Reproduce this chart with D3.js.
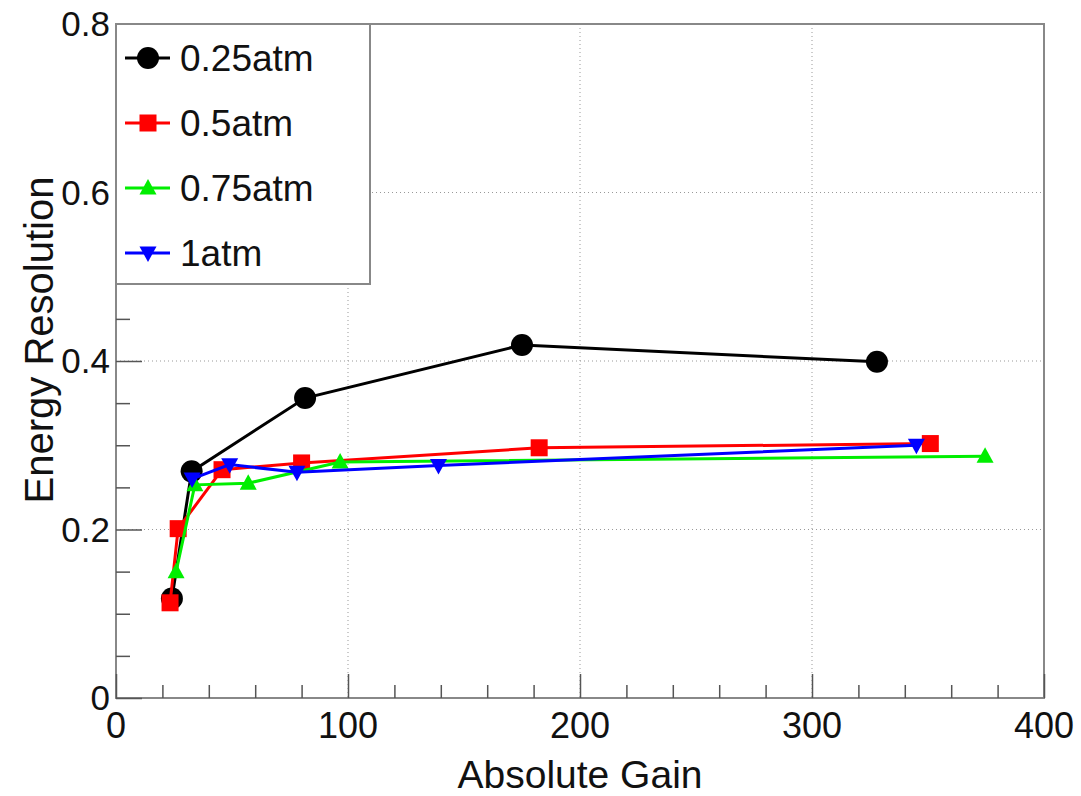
<!DOCTYPE html>
<html>
<head>
<meta charset="utf-8">
<script src="https://cdn.jsdelivr.net/npm/d3@7"></script>
<style>
  body { margin: 0; background: #fff; }
  text { font-family: "Liberation Sans", Arial, sans-serif; fill: #111; }
</style>
</head>
<body>
<svg width="1081" height="796"></svg>
<script>
const svg = d3.select("svg");

// data
const gain025 = [24.1, 32.6, 81.5, 175, 328];
const res025 = [0.118, 0.269, 0.356, 0.419, 0.399];
const gain05 = [23.3, 26.8, 45.7, 80, 182.4, 351];
const res05 = [0.113, 0.201, 0.271, 0.279, 0.297, 0.302];
const gain075 = [25.9, 34, 57, 96.6, 374.6];
const res075 = [0.150, 0.253, 0.255, 0.280, 0.287];
const gain1 = [32.8, 49, 78, 139, 345];
const res1 = [0.260, 0.277, 0.268, 0.276, 0.300];

const xTicks = [0, 100, 200, 300, 400];
const yTicks = [0, 0.2, 0.4, 0.6, 0.8];

const series = [
  { name: "0.25atm", color: "#000000", shape: "circle", x: gain025, y: res025 },
  { name: "0.5atm", color: "#ff0000", shape: "square", x: gain05, y: res05 },
  { name: "0.75atm", color: "#00ee00", shape: "up", x: gain075, y: res075 },
  { name: "1atm", color: "#0000ff", shape: "down", x: gain1, y: res1 }
];

const pL = 116, pR = 1044, pT = 24, pB = 698;

const x = d3.scaleLinear().domain([0, 400]).range([pL, pR]);
const y = d3.scaleLinear().domain([0, 0.8]).range([pB, pT]);

// grid
const grid = svg.append("g");
grid.selectAll(".gx").data(xTicks.slice(1, -1)).enter().append("line")
  .attr("x1", d => x(d)).attr("x2", d => x(d))
  .attr("y1", pT).attr("y2", pB)
  .attr("stroke", "#999").attr("stroke-dasharray", "1,3");
grid.selectAll(".gy").data(yTicks.slice(1, -1)).enter().append("line")
  .attr("y1", d => y(d)).attr("y2", d => y(d))
  .attr("x1", pL).attr("x2", pR)
  .attr("stroke", "#999").attr("stroke-dasharray", "1,3");

// frame
svg.append("rect")
  .attr("x", pL).attr("y", pT)
  .attr("width", pR - pL).attr("height", pB - pT)
  .attr("fill", "none").attr("stroke", "#888").attr("stroke-width", 2);

// axes with inward ticks (ROOT style)
const xAxis = svg.append("g").attr("transform", `translate(0,${pB})`)
  .call(d3.axisTop(x).tickValues(d3.range(0, 401, 20)).tickSize(0).tickFormat(""));
xAxis.select(".domain").remove();
xAxis.selectAll(".tick line")
  .attr("y2", d => d % 100 === 0 ? -24 : -13)
  .attr("stroke", "#555").attr("stroke-width", 1.5);

const yAxis = svg.append("g").attr("transform", `translate(${pL},0)`)
  .call(d3.axisRight(y).tickValues(d3.range(0, 0.801, 0.05)).tickSize(0).tickFormat(""));
yAxis.select(".domain").remove();
yAxis.selectAll(".tick line")
  .attr("x2", (d, i) => i % 4 === 0 ? 26 : 14)
  .attr("stroke", "#555").attr("stroke-width", 1.5);

// tick labels
svg.selectAll(".xl").data(xTicks).enter().append("text")
  .attr("x", d => x(d)).attr("y", 738)
  .attr("text-anchor", "middle").attr("font-size", 36)
  .text(d => d);
svg.selectAll(".yl").data(yTicks).enter().append("text")
  .attr("x", 110).attr("y", d => y(d) + 12)
  .attr("text-anchor", "end").attr("font-size", 35)
  .text(d => d === 0 ? "0" : d.toFixed(1));

// axis titles
svg.append("text")
  .attr("x", (pL + pR) / 2).attr("y", 788)
  .attr("text-anchor", "middle").attr("font-size", 39)
  .text("Absolute Gain");
svg.append("text")
  .attr("transform", "translate(53,340) rotate(-90)")
  .attr("text-anchor", "middle").attr("font-size", 40)
  .text("Energy Resolution");

function marker(g, shape, color, cx, cy) {
  if (shape === "circle") {
    g.append("circle").attr("cx", cx).attr("cy", cy).attr("r", 11).attr("fill", color);
  } else if (shape === "square") {
    g.append("rect").attr("x", cx - 8.5).attr("y", cy - 8.5).attr("width", 17).attr("height", 17).attr("fill", color);
  } else {
    const s = shape === "up" ? 1 : -1;
    g.append("path")
      .attr("d", `M${cx},${cy - 9 * s}L${cx + 8.5},${cy + 6.5 * s}L${cx - 8.5},${cy + 6.5 * s}Z`)
      .attr("fill", color);
  }
}

// series
const line = d3.line().x(d => x(d[0])).y(d => y(d[1]));
series.forEach(s => {
  const pts = s.x.map((v, i) => [v, s.y[i]]);
  const g = svg.append("g");
  g.append("path").datum(pts).attr("d", line)
    .attr("fill", "none").attr("stroke", s.color).attr("stroke-width", 3);
  pts.forEach(p => marker(g, s.shape, s.color, x(p[0]), y(p[1])));
});

// legend
const leg = svg.append("g");
leg.append("rect")
  .attr("x", pL).attr("y", pT).attr("width", 254).attr("height", 260)
  .attr("fill", "#fff").attr("stroke", "#888").attr("stroke-width", 2);
series.forEach((s, i) => {
  const ly = 58 + i * 65;
  leg.append("line").attr("x1", 125).attr("x2", 170).attr("y1", ly).attr("y2", ly)
    .attr("stroke", s.color).attr("stroke-width", 3);
  marker(leg, s.shape, s.color, 148, ly);
  leg.append("text").attr("x", 180).attr("y", ly + 13).attr("font-size", 37).text(s.name);
});
</script>
</body>
</html>
